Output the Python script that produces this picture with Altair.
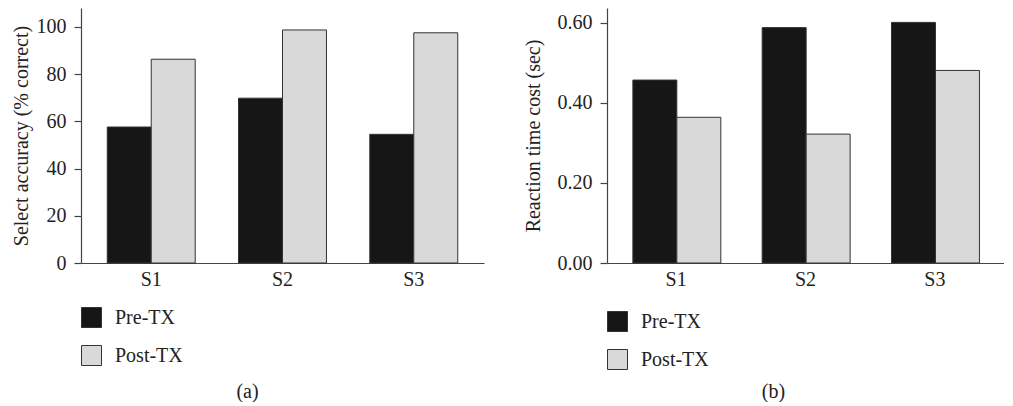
import altair as alt
import pandas as pd

subjects = ["S1", "S2", "S3"]
groups = ["Pre-TX", "Post-TX"]
accuracy_pre = [57.6, 69.8, 54.5]
accuracy_post = [86.3, 98.7, 97.5]
rt_pre = [0.457, 0.588, 0.601]
rt_post = [0.364, 0.322, 0.481]
acc_ticks = [0, 20, 40, 60, 80, 100]
rt_ticks = [0.0, 0.2, 0.4, 0.6]

FONT = "Liberation Serif"
INK = "#222222"
AXIS = "#444444"


def make_df(pre, post):
    rows = []
    for s, a, b in zip(subjects, pre, post):
        rows.append({"Subject": s, "Group": groups[0], "Value": a})
        rows.append({"Subject": s, "Group": groups[1], "Value": b})
    return pd.DataFrame(rows)


def panel(df, ytitle, domain, ticks, fmt, caption, width, legend_y, title_pad, dx, offset):
    return alt.Chart(df).mark_bar(stroke="#333333", strokeWidth=1).encode(
        x=alt.X("Subject:N", sort=subjects, title=None,
                scale=alt.Scale(paddingInner=0.33, paddingOuter=0.2),
                axis=alt.Axis(labelAngle=0, ticks=False, labelPadding=6)),
        xOffset=alt.XOffset("Group:N", sort=groups,
                            scale=alt.Scale(paddingInner=0, paddingOuter=0)),
        y=alt.Y("Value:Q", title=ytitle,
                scale=alt.Scale(domain=domain, nice=False, zero=True),
                axis=alt.Axis(values=ticks, format=fmt, tickSize=7, labelPadding=8,
                              titlePadding=title_pad, grid=False)),
        color=alt.Color("Group:N", sort=groups,
                        scale=alt.Scale(domain=groups, range=["#161616", "#d9d9d9"]),
                        legend=alt.Legend(orient="none", legendX=0, legendY=legend_y,
                                          title=None, symbolType="square", symbolSize=400,
                                          symbolStrokeColor="#333333", symbolStrokeWidth=1,
                                          labelOffset=13, rowPadding=13, padding=0,
                                          labelFont=FONT, labelFontSize=20, labelColor=INK)),
    ).properties(
        width=width, height=255,
        title=alt.TitleParams(caption, orient="bottom", anchor="middle", frame="bounds",
                              dx=dx, offset=offset, font=FONT, fontSize=20,
                              fontWeight="normal", color=INK),
    )


left = panel(make_df(accuracy_pre, accuracy_post), "Select accuracy (% correct)",
             [0, 108], acc_ticks, "d", "(a)", 403, 299, 5, 0, 14)
right = panel(make_df(rt_pre, rt_post), "Reaction time cost (sec)",
              [0, 0.637], rt_ticks, ".2f", "(b)", 397, 303, 14, 10, 10)

chart = alt.hconcat(left, right, spacing=39).resolve_scale(color="independent").properties(
    padding={"left": 3, "top": 0, "right": 0, "bottom": 0}
).configure_view(stroke=None).configure_axis(
    labelFont=FONT, labelFontSize=20, labelColor=INK,
    titleFont=FONT, titleFontSize=20, titleFontWeight="normal", titleColor=INK,
    domainColor=AXIS, tickColor=AXIS, domainWidth=1.2, tickWidth=1.2,
)

chart.save("out.html", embed_options={"renderer": "svg", "actions": False})
